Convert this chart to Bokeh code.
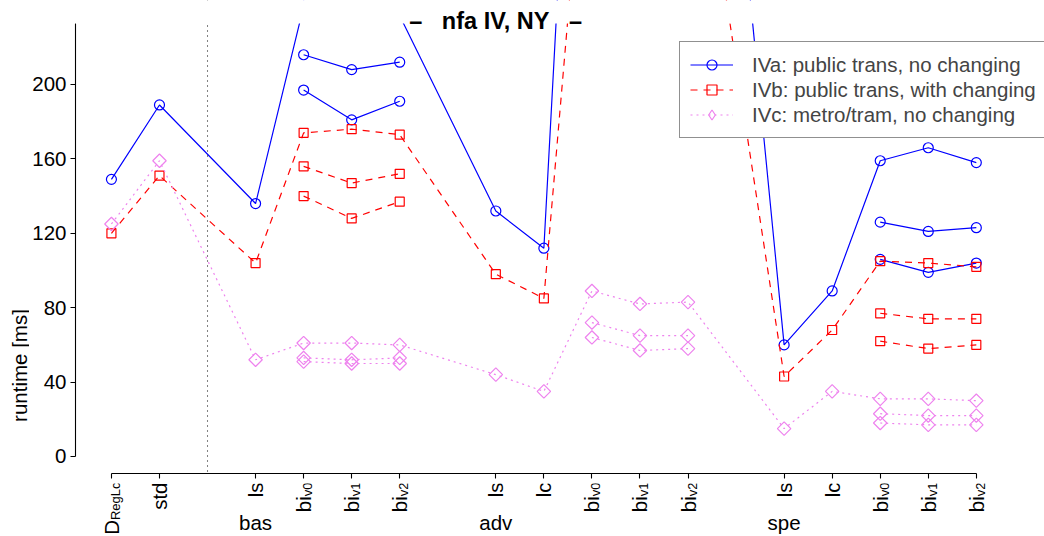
import math
from bokeh.plotting import figure
from bokeh.layouts import row, column
from bokeh.models import (Range1d, FixedTicker, Span, Label, Legend, LegendItem,
                          BoxAnnotation)
from bokeh.core.properties import value
from bokeh.embed import file_html
from bokeh.resources import INLINE

# ---------------- data ----------------
tick_main = ["D", "std", "ls", "bi", "bi", "bi", "ls", "lc", "bi", "bi", "bi",
             "ls", "lc", "bi", "bi", "bi"]
tick_sub = ["RegLc", "", "", "v0", "v1", "v2", "", "", "v0", "v1", "v2",
            "", "", "v0", "v1", "v2"]
groups = ["bas", "adv", "spe"]
series_labels = ["IVa: public trans, no changing",
                 "IVb: public trans, with changing",
                 "IVc: metro/tram, no changing"]
title_text = "nfa IV, NY"
y_title = "runtime [ms]"
y_ticks = [0, 40, 80, 120, 160, 200]

# main runs (through every category)
iva_main = [149, 189, 136, 242, 239, 237, 132, 112, 590, 586, 588, 60, 89, 159, 166, 158]
ivb_main = [120, 151, 104, 174, 176, 173, 98, 85, 386, 382, 380, 43, 68, 105, 104, 102]
ivc_main = [125, 159, 52, 61, 61, 60, 44, 35, 89, 82, 83, 15, 35, 31, 31, 30]

# further bi variants (bi_v0, bi_v1, bi_v2)
iva_bas_2 = [216, 208, 212]
iva_bas_3 = [197, 181, 191]
iva_spe_2 = [126, 121, 123]
iva_spe_3 = [106, 99, 104]
ivb_bas_2 = [156, 147, 152]
ivb_bas_3 = [140, 128, 137]
ivb_spe_2 = [77, 74, 74]
ivb_spe_3 = [62, 58, 60]
ivc_bas_2 = [53, 52, 53]
ivc_bas_3 = [51, 50, 50]
ivc_adv_2 = [72, 65, 65]
ivc_adv_3 = [64, 57, 58]
ivc_spe_2 = [23, 22, 22]
ivc_spe_3 = [18, 17, 17]

# ---------------- layout ----------------
x_pos = [1, 2, 4, 5, 6, 7, 9, 10, 11, 12, 13, 15, 16, 17, 18, 19]
sep_pos = 3
group_pos = [x_pos[2], x_pos[6], x_pos[11]]
bi_bas = x_pos[3:6]
bi_adv = x_pos[8:11]
bi_spe = x_pos[13:16]

PW, PH = 1044, 536          # page
LW = 29                     # left strip (y title)
MH = 483                    # main figure height
BH = PH - MH                # bottom strip (tick labels)
FL, FR, FT, FB = 73, 1044, 0, 473   # main frame in page px
X0, X1 = 0.2523, 20.419
Y0, Y1 = -9.14, 245.16
Y_CLIP = 232.8              # top of the plotting region


def mx(px):
    return X0 + (px - FL) / (FR - FL) * (X1 - X0)


def my(py):
    return Y1 - (py - FT) / (FB - FT) * (Y1 - Y0)


FONT = "Liberation Sans"
FS = "20.5px"
SUB_FS = 13
ARIAL_W = {"R": .722, "e": .556, "g": .556, "L": .556, "c": .5, "v": .5,
           "0": .556, "1": .556, "2": .556}


def twidth(s, fs):
    return sum(ARIAL_W.get(ch, .556) for ch in s) * fs


# ---------------- main figure ----------------
p = figure(width=PW - LW, height=MH, x_range=Range1d(X0, X1), y_range=Range1d(Y0, Y1),
           output_backend="svg", toolbar_location=None,
           min_border_left=FL - LW, min_border_right=0,
           min_border_top=0, min_border_bottom=MH - FB)
p.grid.visible = False
p.outline_line_color = None
p.background_fill_color = "white"
p.border_fill_color = "white"
# a range that lies far outside the view: used only for a legend sample glyph
p.extra_y_ranges = {"legend_only": Range1d(10000, 20000)}

p.yaxis.ticker = FixedTicker(ticks=y_ticks)
p.yaxis.bounds = (0, Y_CLIP)
p.xaxis.ticker = FixedTicker(ticks=x_pos)
p.xaxis.bounds = (x_pos[0], x_pos[-1])
p.xaxis.major_label_overrides = {x: "" for x in x_pos}
for ax in (p.xaxis, p.yaxis):
    ax.axis_line_color = "black"
    ax.axis_line_width = 1.1
    ax.major_tick_line_color = "black"
    ax.major_tick_line_width = 1.1
    ax.major_tick_out = 5
    ax.major_tick_in = 0
    ax.minor_tick_line_color = None
    ax.major_label_text_font = FONT
    ax.major_label_text_color = "black"
p.yaxis.major_label_text_font_size = FS
p.yaxis.major_label_standoff = 4
p.xaxis.major_label_text_font_size = "1px"
p.xaxis.major_label_standoff = 0

p.add_layout(Span(location=sep_pos, dimension="height", line_color="black",
                  line_width=1, line_dash="1 4"))

styles = [
    dict(color="#0000FF", dash="solid", marker="circle", size=10, angle=0),
    dict(color="#FF0000", dash="7 6", marker="square", size=9, angle=0),
    dict(color="#EE82EE", dash="2 4", marker="square", size=9.5, angle=math.pi / 4),
]
mains = [iva_main, ivb_main, ivc_main]
extras = [
    [(bi_bas, iva_bas_2), (bi_bas, iva_bas_3), (bi_spe, iva_spe_2), (bi_spe, iva_spe_3)],
    [(bi_bas, ivb_bas_2), (bi_bas, ivb_bas_3), (bi_spe, ivb_spe_2), (bi_spe, ivb_spe_3)],
    [(bi_bas, ivc_bas_2), (bi_bas, ivc_bas_3), (bi_adv, ivc_adv_2), (bi_adv, ivc_adv_3),
     (bi_spe, ivc_spe_2), (bi_spe, ivc_spe_3)],
]

items = []
for st, main, ext, lab in zip(styles, mains, extras, series_labels):
    lr = p.line(x_pos, main, line_color=st["color"], line_width=1.2, line_dash=st["dash"])
    sr = p.scatter(x_pos, main, marker=st["marker"], size=st["size"], angle=st["angle"],
                   line_color=st["color"], fill_color=None, line_width=1.2)
    for xs, ys in ext:
        p.line(xs, ys, line_color=st["color"], line_width=1.2, line_dash=st["dash"])
        p.scatter(xs, ys, marker=st["marker"], size=st["size"], angle=st["angle"],
                  line_color=st["color"], fill_color=None, line_width=1.2)
    if st["angle"]:
        # legend ignores marker angles: use a diamond sample drawn off-view
        sr = p.scatter(x_pos, main, marker="diamond", y_range_name="legend_only",
                       line_color=st["color"], fill_color=None, line_width=1.2)
    items.append(LegendItem(label=lab, renderers=[lr, sr]))

# the plotting region ends at Y_CLIP: blank out what lies above it
p.add_layout(BoxAnnotation(bottom=Y_CLIP, fill_color="white", fill_alpha=1.0,
                           line_color=None))

legend = Legend(items=items, location=(677 - FL, FB - 138), padding=10, spacing=0,
                margin=0, glyph_width=43, glyph_height=25, label_height=25,
                label_width=340, label_standoff=19, label_text_font=FONT,
                label_text_font_size=FS,
                border_line_color="#222222", border_line_width=1.2,
                background_fill_color="white", background_fill_alpha=1.0)
p.add_layout(legend)

p.add_layout(Label(x=mx(494), y=my(20.5),
                   text="\u2013\u00a0\u00a0\u00a0" + title_text + "\u00a0\u00a0\u00a0\u2013",
                   text_align="center", text_baseline="middle", text_font=FONT,
                   text_font_style="bold", text_font_size="23.5px", text_color="black"))

# ---------------- bottom strip: tick labels ----------------
b = figure(width=PW - LW, height=BH, x_range=p.x_range, y_range=Range1d(0, BH),
           x_axis_type=None, y_axis_type=None, output_backend="svg",
           toolbar_location=None, min_border_left=FL - LW, min_border_right=0,
           min_border_top=0, min_border_bottom=0)
b.outline_line_color = None
b.background_fill_color = "white"
b.border_fill_color = "white"

TOP = 482  # page y where the rotated labels start
b.text(x=x_pos, y=[PH - TOP - twidth(s, SUB_FS) for s in tick_sub], text=tick_main,
       angle=math.pi / 2, text_align="right", text_baseline="middle",
       text_font=value(FONT), text_font_size=value(FS), text_color="black")
sub_x = [x for x, s in zip(x_pos, tick_sub) if s]
sub_t = [s for s in tick_sub if s]
b.text(x=sub_x, y=[PH - TOP] * len(sub_x), text=sub_t, x_offset=4,
       angle=math.pi / 2, text_align="right", text_baseline="middle",
       text_font=value(FONT), text_font_size=value(f"{SUB_FS}px"), text_color="black")
b.text(x=group_pos, y=[PH - 521.5] * len(groups), text=groups,
       text_align="center", text_baseline="middle",
       text_font=value(FONT), text_font_size=value(FS), text_color="black")

# ---------------- left strip: y title ----------------
l = figure(width=LW, height=PH, x_range=Range1d(0, LW), y_range=Range1d(0, PH),
           x_axis_type=None, y_axis_type=None, output_backend="svg",
           toolbar_location=None, min_border=0)
l.outline_line_color = None
l.background_fill_color = "white"
l.border_fill_color = "white"
l.text(x=[18.5], y=[PH - 365], text=[y_title], angle=math.pi / 2,
       text_align="center", text_baseline="middle",
       text_font=value(FONT), text_font_size=value(FS), text_color="black")

layout = row(l, column(p, b, spacing=0), spacing=0)
open("out.html", "w").write(file_html(layout, INLINE))
